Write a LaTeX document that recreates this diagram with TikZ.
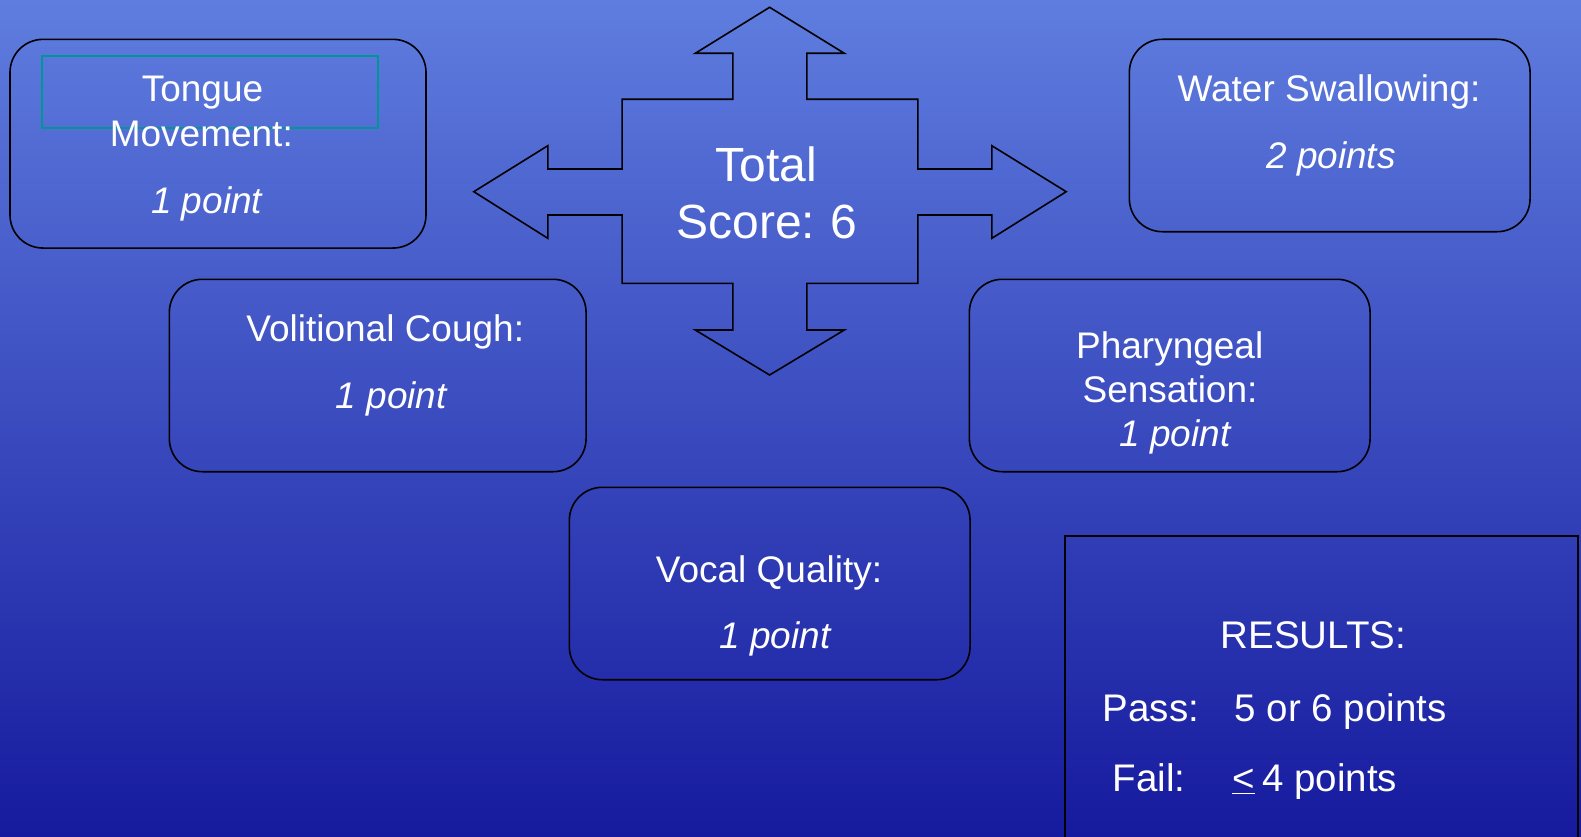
\documentclass[tikz,border=0pt]{standalone}
\usepackage{fontspec}
\setmainfont{Liberation Sans}
\definecolor{bgtop}{RGB}{95,125,223}
\definecolor{bgbot}{RGB}{22,26,158}
\definecolor{tealline}{RGB}{0,150,150}
\tikzset{
  scorebox/.style={draw=black, line width=1.6pt, rounded corners=33pt, inner sep=0pt},
  lbl/.style={text=white, anchor=base, inner sep=0pt, font=\fontsize{37}{44}\selectfont},
  pts/.style={lbl, font=\fontsize{37}{44}\selectfont\itshape},
  res/.style={text=white, anchor=base west, inner sep=0pt, font=\fontsize{38.5}{46}\selectfont},
  big/.style={text=white, anchor=base, inner sep=0pt, font=\fontsize{48}{56}\selectfont},
}
\begin{document}
\begin{tikzpicture}[x=1pt,y=-1pt]
\useasboundingbox (0,0) rectangle (1581,837);
\clip (0,0) rectangle (1581,837);
\shade[top color=bgtop, bottom color=bgbot] (0,0) rectangle (1581,837);

% central four-way arrow
\draw[line width=1.6pt, line join=miter]
  (769.6,7.3) -- (844.3,53.3) -- (806.8,53.3) -- (806.8,99.3) -- (917.9,99.3)
  -- (917.9,169) -- (991.8,169) -- (991.8,145.7) -- (1066.2,191.7) -- (991.8,238.3)
  -- (991.8,215) -- (917.9,215) -- (917.9,283.3) -- (806.8,283.3) -- (806.8,330)
  -- (844.3,330) -- (769.6,375) -- (695.3,330) -- (732.8,330) -- (732.8,283.3)
  -- (622.1,283.3) -- (622.1,215) -- (547.8,215) -- (547.8,238.3) -- (473.8,191.7)
  -- (547.8,145.7) -- (547.8,169) -- (622.1,169) -- (622.1,99.3) -- (732.8,99.3)
  -- (732.8,53.3) -- (695.3,53.3) -- cycle;
\node[big] (total) at (766,181.7) {Total};
\node[big] (score) at (767,238.3) {Score:\hspace{-2pt} 6};

% boxes
\node[scorebox, minimum width=416pt, minimum height=208.7pt] (tongue) at (218,143.7) {};
\node[scorebox, minimum width=400.7pt, minimum height=192.4pt] (water) at (1329.7,135.5) {};
\node[scorebox, minimum width=416.7pt, minimum height=192.4pt] (cough) at (377.7,375.5) {};
\node[scorebox, minimum width=400.7pt, minimum height=192.4pt] (phar) at (1169.7,375.5) {};
\node[scorebox, minimum width=400.7pt, minimum height=192.4pt] (vocal) at (769.7,583.5) {};

% teal frame in the first box
\draw[tealline, line width=2pt] (41.7,56) rectangle (378.3,128);

\node[lbl] (t1) at (202.5,101.7) {Tongue};
\node[lbl] (t2) at (201.3,146.7) {Movement:};
\node[pts] (t3) at (206.7,213.3) {1 point};

\node[lbl] (w1) at (1329,101.7) {Water Swallowing:};
\node[pts] (w2) at (1331,168.3) {2 points};

\node[lbl] (c1) at (385.3,341.7) {Volitional Cough:};
\node[pts] (c2) at (391.3,408.3) {1 point};

\node[lbl] (p1) at (1169.7,358.3) {Pharyngeal};
\node[lbl] (p2) at (1170,402.7) {Sensation:};
\node[pts] (p3) at (1175,446.7) {1 point};

\node[lbl] (v1) at (769,582) {Vocal Quality:};
\node[pts] (v2) at (775,648.7) {1 point};

% results
\node[draw=black, line width=1.6pt, inner sep=0pt, minimum width=513pt, minimum height=330pt] (results) at (1321.5,700.7) {};
\node[text=white, anchor=base, inner sep=0pt, font=\fontsize{38.5}{46}\selectfont] (rtitle) at (1313.3,648.3) {RESULTS:};
\node[res] (pass) at (1102.5,721) {Pass:};
\node[res] (passv) at (1234.6,721) {5 or 6 points};
\node[res] (fail) at (1112.6,791.7) {Fail:};
\node[res] (failv) at (1231.8,791.7) {\underline{<}\hspace{0.2em}4 points};
\end{tikzpicture}
\end{document}
